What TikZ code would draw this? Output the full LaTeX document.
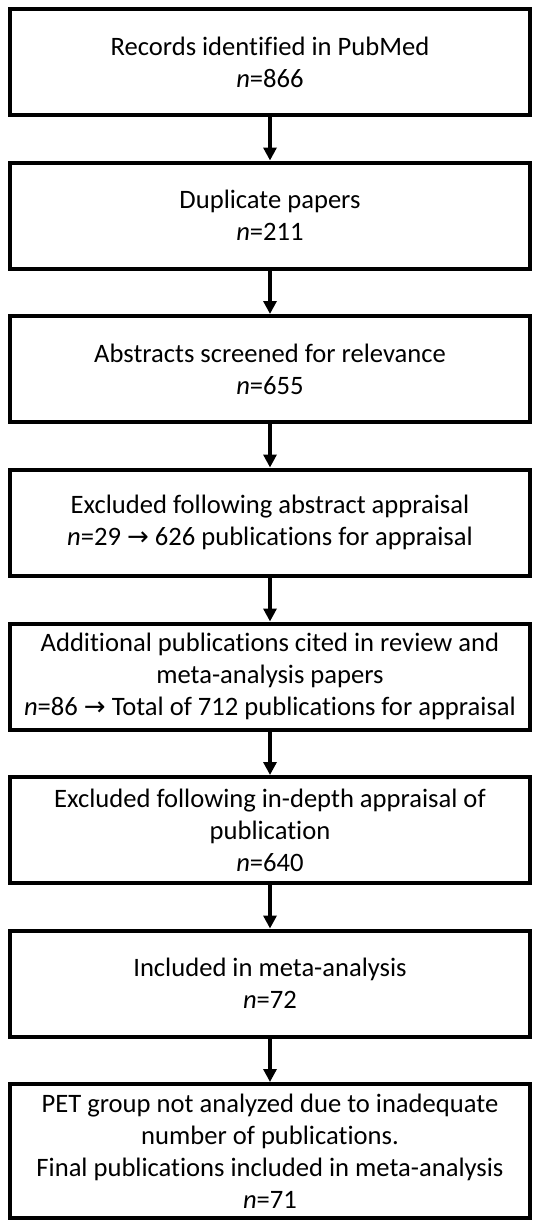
\documentclass[tikz,border=0pt]{standalone}
\usepackage{fontspec}
\setmainfont[Ligatures=NoCommon]{Carlito}
\newfontfamily\symfont{DejaVu Sans}
\usetikzlibrary{arrows.meta, positioning}
\newcommand{\toarrow}{{\symfont\fontsize{13}{16}\selectfont →}}

\begin{document}
\begin{tikzpicture}[x=0.5pt, y=-0.5pt]
                \tikzstyle{stage} = [shape=rectangle, draw=black, line width=2pt, minimum width=260pt, minimum height=53pt, inner sep=2pt, align=center, font=\fontsize{13.3}{16}\selectfont];

                \useasboundingbox (0,0) rectangle (540,1226);

                \node[stage](REC) at (270,62) {Records identified in PubMed\\\textit{n}=866};
                \node[stage](DUP) at (270,215.5) {Duplicate papers\\\textit{n}=211};
                \node[stage](ABS) at (270,369) {Abstracts screened for relevance\\\textit{n}=655};
                \node[stage](EXA) at (270,522.5) {Excluded following abstract appraisal\\\textit{n}=29 \toarrow{} 626 publications for appraisal};
                \node[stage](ADD) at (270,676.5) {Additional publications cited in review and\\meta-analysis papers\\\textit{n}=86 \toarrow{} Total of 712 publications for appraisal};
                \node[stage](EXD) at (270,830) {Excluded following in-depth appraisal of\\publication\\\textit{n}=640};
                \node[stage](INC) at (270,983.5) {Included in meta-analysis\\\textit{n}=72};
                \node[stage, minimum height=67pt](FIN) at (270,1151) {PET group not analyzed due to inadequate\\number of publications.\\Final publications included in meta-analysis\\\textit{n}=71};

                \draw[-{Triangle[length=6.5pt,width=6.5pt]}, line width=1.6pt]
                    (REC) edge (DUP)
                    (DUP) edge (ABS)
                    (ABS) edge (EXA)
                    (EXA) edge (ADD)
                    (ADD) edge (EXD)
                    (EXD) edge (INC)
                    (INC) edge (FIN)
                ;
            \end{tikzpicture}
\end{document}
